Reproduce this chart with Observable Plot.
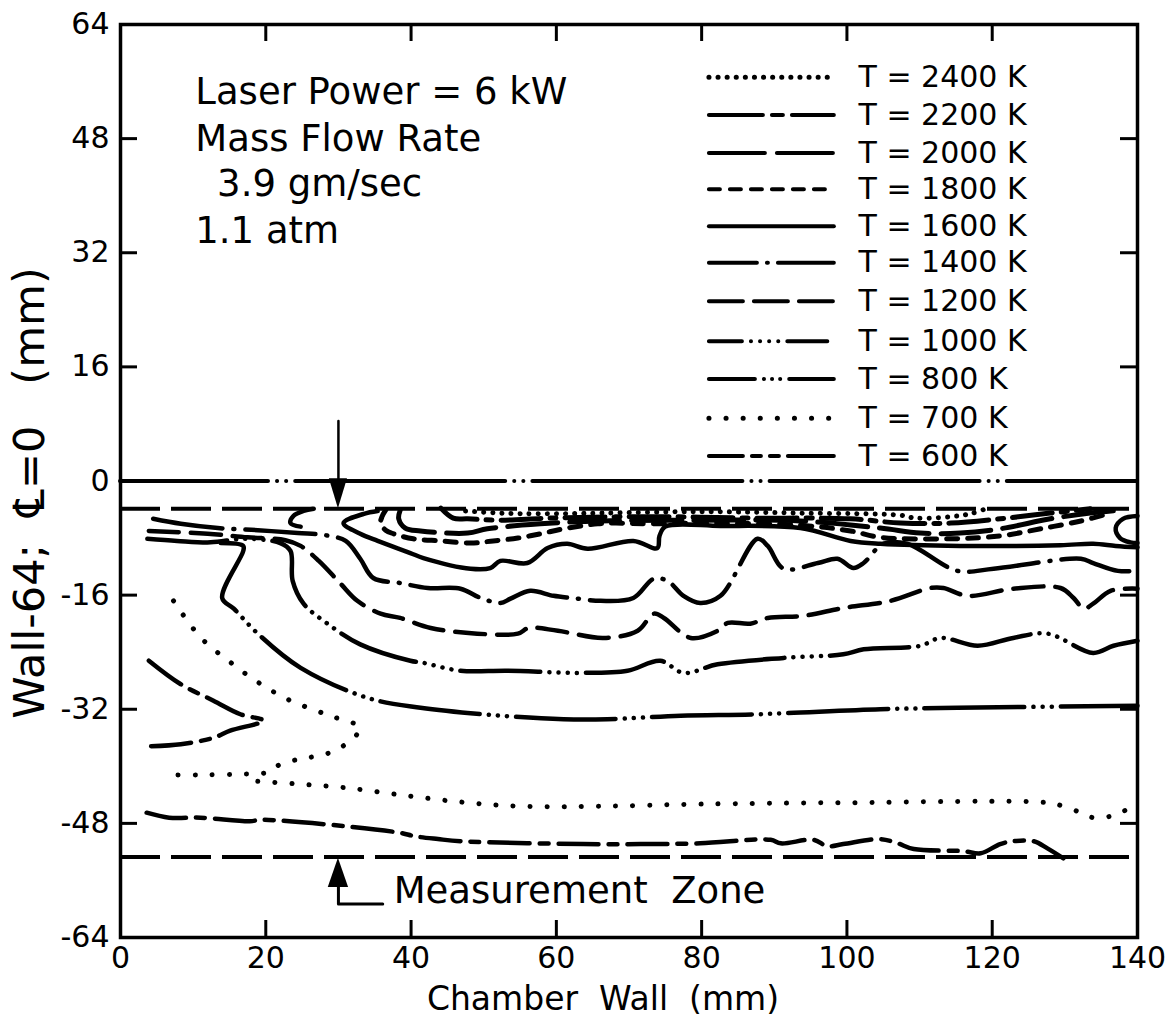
<!DOCTYPE html>
<html><head><meta charset="utf-8">
<script src="https://cdn.jsdelivr.net/npm/d3@7"></script>
<script src="https://cdn.jsdelivr.net/npm/@observablehq/plot@0.6"></script>
<style>
html,body{margin:0;padding:0;background:#fff;}
#chart{width:1169px;height:1024px;}
</style>
</head><body><div id="chart"></div>
<script>
// ---- axes ----
const xTicks = [0,20,40,60,80,100,120,140];
const yTicks = [64,48,32,16,0,-16,-32,-48,-64];
const xTickMarks = [20,40,60,80,100,120];
const yTickMarks = [48,32,16,-16,-32,-48];
const xTitle = "Chamber  Wall  (mm)";
const yTitle = "Wall-64;  \u2104=0   (mm)";

// ---- legend ----
const legendTemps = ["2400","2200","2000","1800","1600","1400","1200","1000","800","700","600"];
const legendLabels = ["T = 2400 K","T = 2200 K","T = 2000 K","T = 1800 K","T = 1600 K","T = 1400 K","T = 1200 K","T = 1000 K","T = 800 K","T = 700 K","T = 600 K"];
const legendRowY = [56.6,51.3,46.0,40.9,35.7,30.6,25.2,19.6,14.3,8.8,3.5];

// ---- contours [x mm, y mm] ----
const t2400 = [[47.5,-4.2],[52.3,-4.5],[57.8,-4.6],[66.1,-4.5],[79.8,-4.3],[93.6,-4.5],[107.4,-4.8],[109.4,-5.2],[114.3,-5.0],[117.0,-4.6],[119.1,-3.9]];
const t2200 = [[44.1,-3.8],[45.8,-5.2],[47.8,-5.3],[52.3,-5.5],[59.2,-5.2],[73.0,-5.0],[86.7,-5.2],[100.5,-5.3],[107.4,-5.9],[114.3,-5.9],[121.1,-5.3],[128.0,-4.5],[133.5,-3.9]];
const t2000 = [[38.5,-4.1],[38.3,-5.3],[39.2,-6.6],[41.3,-7.0],[47.8,-7.3],[50.5,-6.7],[57.8,-6.0],[66.1,-5.6],[79.8,-5.5],[93.6,-5.6],[104.6,-6.6],[110.1,-7.3],[115.6,-7.3],[121.1,-6.7],[128.0,-5.3],[133.5,-4.5],[137.7,-4.1]];
const t1800 = [[36.5,-4.1],[36.0,-5.0],[35.8,-5.9],[36.5,-6.9],[37.6,-7.4],[40.3,-8.1],[44.1,-8.4],[48.2,-8.7],[51.3,-8.4],[54.7,-8.0],[57.8,-7.4],[61.0,-6.7],[65.7,-6.0],[67.9,-5.9],[73.0,-6.0],[82.6,-5.9],[93.6,-6.2],[100.5,-7.0],[104.6,-7.9],[114.3,-8.1],[121.1,-7.7],[126.7,-6.7],[132.2,-5.6],[136.3,-4.5]];
const t1600 = [[35.4,-4.2],[33.5,-4.6],[30.7,-5.9],[33.0,-7.4],[35.4,-8.4],[39.9,-10.1],[41.7,-10.8],[48.2,-12.3],[50.9,-12.2],[52.3,-11.2],[56.0,-11.5],[58.8,-9.4],[61.5,-8.8],[64.3,-9.5],[70.6,-8.4],[73.9,-9.4],[74.2,-7.7],[75.0,-6.4],[82.6,-6.3],[93.6,-6.6],[100.5,-8.4],[104.6,-8.8],[115.6,-9.1],[129.4,-9.0],[133.9,-8.8],[137.0,-9.1],[140,-9.3]];
const t1600hook = [[26.6,-3.9],[25.2,-4.2],[23.8,-4.9],[23.4,-5.9],[24.8,-6.4]];
const t1600loop = [[140,-4.9],[138.0,-5.3],[137.0,-6.6],[137.6,-8.0],[139.0,-8.6],[140,-8.7]];
const t1400 = [[4.5,-5.3],[8.3,-6.0],[13.4,-6.6],[18.9,-6.9],[24.4,-7.3],[28.2,-7.6],[31.0,-8.4],[33.0,-10.9],[34.8,-13.6],[38.5,-14.3],[42.3,-15.0],[46.8,-15.1],[49.6,-16.4],[52.3,-17.1],[53.7,-16.5],[56.4,-15.4],[59.6,-16.1],[62.2,-16.4],[66.1,-16.8],[70.6,-16.4],[73.4,-13.7],[75.3,-14.0],[77.5,-16.1],[79.8,-17.1],[82.6,-16.1],[87.7,-8.1],[89.1,-9.1],[91.3,-12.3],[96.0,-11.5],[98.7,-10.9],[100.9,-12.2],[102.3,-11.5],[105.0,-8.8],[108.3,-8.8],[115.2,-12.6],[120.2,-12.3],[132.2,-10.9],[133.9,-11.5],[137.3,-12.6],[140,-12.6]];
const t1200 = [[3.9,-7.0],[12.0,-7.4],[17.5,-7.9],[22.7,-8.3],[24.8,-9.1],[27.3,-11.2],[30.3,-14.4],[32.6,-16.8],[35.8,-18.6],[38.5,-19.2],[42.7,-20.6],[49.1,-21.4],[54.7,-21.4],[56.2,-20.6],[60.2,-21.0],[66.5,-22.0],[71.2,-21.0],[73.4,-18.6],[74.8,-19.2],[78.5,-22.0],[82.2,-21.0],[83.6,-19.9],[86.7,-20.0],[89.1,-19.2],[94.0,-18.9],[99.5,-17.8],[106.0,-16.8],[111.5,-15.0],[113.3,-15.0],[116.6,-16.1],[122.9,-15.1],[129.4,-15.0],[131.2,-16.4],[132.6,-17.9],[133.9,-17.2],[136.3,-15.4],[140,-15.1]];
const t1000 = [[3.7,-8.1],[7.8,-8.4],[12.4,-8.6],[17.2,-8.1],[22.0,-8.7],[23.4,-9.8],[23.7,-14.0],[25.2,-17.2],[28.5,-20.0],[33.0,-22.9],[39.9,-25.2],[41.7,-25.5],[46.8,-26.6],[53.3,-26.6],[63.3,-26.9],[69.8,-26.6],[74.3,-25.2],[77.5,-26.9],[82.2,-25.7],[91.3,-24.8],[99.5,-24.3],[102.3,-23.6],[110.1,-23.1],[112.9,-22.0],[118.0,-23.1],[122.9,-22.0],[127.6,-21.4],[133.9,-24.1],[136.7,-23.1],[140,-22.4]];
const t800 = [[13.8,-8.7],[16.9,-9.1],[16.9,-9.8],[14.0,-16.4],[15.6,-17.9],[18.9,-21.4],[24.8,-26.2],[34.0,-30.4],[41.3,-31.8],[52.3,-32.9],[61.0,-33.4],[67.0,-33.4],[77.1,-32.9],[87.7,-32.7],[104.6,-32.0],[115.2,-31.8],[140,-31.5]];
const t700a = [[7.3,-16.8],[11.0,-21.9],[15.1,-25.4],[18.9,-28.2],[23.0,-30.6],[28.5,-32.8],[33.0,-34.6],[32.1,-36.0],[29.3,-37.9],[26.8,-38.6],[24.6,-39.0],[22.0,-39.7],[20.4,-40.8],[16.2,-41.1],[11.0,-41.2],[7.0,-41.2]];
const t700b = [[18.9,-42.1],[24.8,-42.5],[31.0,-43.0],[38.5,-44.0],[46.8,-45.0],[55.1,-45.6],[66.1,-45.6],[79.8,-45.3],[100.5,-45.1],[127.6,-45.1],[129.8,-45.6],[132.2,-46.5],[133.9,-47.2],[136.3,-47.0],[138.1,-46.3],[139.5,-45.3],[140,-44.9]];
const t600a = [[3.9,-25.2],[8.3,-28.5],[12.8,-30.8],[16.5,-32.7],[19.7,-33.6],[15.1,-35.0],[12.8,-36.0],[8.3,-36.9],[3.9,-37.2]];
const t600b = [[3.6,-46.5],[6.7,-47.2],[11.0,-47.2],[17.8,-47.7],[19.4,-47.5],[38.4,-49.3],[40.5,-49.8],[43.7,-50.2],[46.8,-50.5],[63.7,-50.9],[71.6,-50.9],[79.8,-50.8],[89.5,-50.3],[90.9,-50.8],[95.4,-50.3],[97.3,-51.2],[99.5,-50.9],[104.6,-50.2],[107.0,-50.8],[109.2,-51.6],[116.1,-51.9],[118.4,-52.2],[121.1,-50.9],[122.9,-50.5],[125.7,-50.5],[127.6,-51.5],[129.8,-52.9]];

const contours = [
  {temp:"2400", pts:t2400}, {temp:"2200", pts:t2200}, {temp:"2000", pts:t2000},
  {temp:"1800", pts:t1800}, {temp:"1600", pts:t1600}, {temp:"1600", pts:t1600hook},
  {temp:"1600", pts:t1600loop}, {temp:"1400", pts:t1400}, {temp:"1200", pts:t1200},
  {temp:"1000", pts:t1000}, {temp:"800", pts:t800}, {temp:"700", pts:t700a},
  {temp:"700", pts:t700b}, {temp:"600", pts:t600a}, {temp:"600", pts:t600b}
];

// ---- annotations ----
const wallLines = [0];
const zoneLines = [-3.9, -52.7];
const notes = [
  {text:"Laser Power = 6 kW", x:10.3, y:52.9},
  {text:"Mass Flow Rate", x:10.3, y:46.3},
  {text:"3.9 gm/sec", x:13.3, y:40.0},
  {text:"1.1 atm", x:10.3, y:33.4}
];
const zoneLabel = [{text:"Measurement  Zone", x:37.6, y:-57.5}];
const arrowTopShaft = [[30,8.4],[30,-2]];
const arrowTopHead = [{x:28.75,y1:0.3,y2:0.3},{x:30,y1:0.3,y2:-3.9},{x:31.25,y1:0.3,y2:0.3}];
const arrowBotShaft = [[30,-55],[30,-59.3],[36.1,-59.3]];
const arrowBotHead = [{x:28.6,y1:-57.0,y2:-57.0},{x:30,y1:-57.0,y2:-52.9},{x:31.4,y1:-57.0,y2:-57.0}];
const legendX = [81.0, 98.2];
const legendTextX = 101.6;

// ---- styles ----
const plotDash = {"2400":"0.1,9","2200":"40,9,6,9","2000":"50,12","1800":"11,10","1600":null,
  "1400":"70,11,1,11","1200":"30,12","1000":"80,9,0.1,9,0.1,9,0.1,9,0.1,9",
  "800":"100,9,0.1,9,0.1,9,0.1,9","700":"0.1,17","600":"40,10,9,10"};
const legendDash = {"2400":"0.1,9","2200":"54,9,11,9","2000":"56,12","1800":"11,10","1600":null,
  "1400":"48,10,1,10,56","1200":"34,11","1000":"33,9,0.1,9,0.1,9,0.1,9,0.1,9,40",
  "800":"46,9,0.1,8,0.1,8,0.1,9,50","700":"0.1,17","600":"34,9,9,9,9,9,50"};
const plotWidth = {"2400":5,"2200":5,"2000":5,"1800":5,"1600":4.5,"1400":4.5,"1200":4.5,"1000":4.5,"800":4.5,"700":5,"600":4.5};
const FONT = "DejaVu Sans";

const marks = [];
marks.push(Plot.frame({stroke:"black", strokeWidth:3.5}));
marks.push(Plot.ruleX(xTickMarks, {x:d=>d, insetTop:896, strokeWidth:3}));
marks.push(Plot.ruleX(xTickMarks, {x:d=>d, insetBottom:896, strokeWidth:3}));
marks.push(Plot.ruleY(yTickMarks, {y:d=>d, insetRight:1000, strokeWidth:3}));
marks.push(Plot.ruleY(yTickMarks, {y:d=>d, insetLeft:1000, strokeWidth:3}));
marks.push(Plot.axisX({ticks:xTicks, tickSize:0, tickPadding:9, fontSize:30, fontFamily:FONT, label:null, tickFormat:d=>String(d)}));
marks.push(Plot.axisY({ticks:yTicks, tickSize:0, tickPadding:11, fontSize:30, fontFamily:FONT, label:null, tickFormat:d=>String(d)}));
marks.push(Plot.text([xTitle], {frameAnchor:"bottom", dy:62, dx:-26, fontSize:33, fontFamily:FONT, lineAnchor:"middle", fill:"black"}));
marks.push(Plot.text([yTitle], {frameAnchor:"left", rotate:-90, dx:-90, dy:12, fontSize:43, fontFamily:FONT, lineAnchor:"middle", textAnchor:"middle", fill:"black"}));

marks.push(Plot.ruleY(wallLines, {y:d=>d, strokeWidth:4, strokeDasharray:"210,9,0.1,9,0.1,9", strokeDashoffset:62, strokeLinecap:"round"}));
marks.push(Plot.ruleY(zoneLines, {y:d=>d, strokeWidth:4, strokeDasharray:"40,11"}));

for (const c of contours) {
  const o = {x:d=>d[0], y:d=>d[1], stroke:"black", strokeWidth:plotWidth[c.temp],
    strokeLinecap:"round", strokeLinejoin:"round", curve:"catmull-rom"};
  if (plotDash[c.temp]) o.strokeDasharray = plotDash[c.temp];
  marks.push(Plot.line(c.pts, o));
}

// legend
legendTemps.forEach((t,i) => {
  const o = {x:d=>d, y:()=>legendRowY[i], stroke:"black", strokeWidth:(t==="700"||t==="2400")?5:4, strokeLinecap:"round"};
  if (legendDash[t]) o.strokeDasharray = legendDash[t];
  marks.push(Plot.line(legendX, o));
});
marks.push(Plot.text(legendLabels, {x:()=>legendTextX, y:(d,i)=>legendRowY[i], text:d=>d, fontSize:30, fontFamily:FONT, textAnchor:"start", lineAnchor:"middle", fill:"black"}));

// notes
marks.push(Plot.text(notes, {x:"x", y:"y", text:"text", fontSize:37, fontFamily:FONT, textAnchor:"start", lineAnchor:"bottom", fill:"black"}));
marks.push(Plot.text(zoneLabel, {x:"x", y:"y", text:"text", fontSize:37, fontFamily:FONT, textAnchor:"start", lineAnchor:"middle", fill:"black"}));

// arrows
marks.push(Plot.line(arrowTopShaft, {x:d=>d[0], y:d=>d[1], stroke:"black", strokeWidth:2.5}));
marks.push(Plot.areaY(arrowTopHead, {x:"x", y1:"y1", y2:"y2", fill:"black", curve:"linear"}));
marks.push(Plot.line(arrowBotShaft, {x:d=>d[0], y:d=>d[1], stroke:"black", strokeWidth:3}));
marks.push(Plot.areaY(arrowBotHead, {x:"x", y1:"y1", y2:"y2", fill:"black", curve:"linear"}));

const chart = Plot.plot({
  width:1169, height:1024,
  marginLeft:120, marginRight:32, marginTop:24, marginBottom:87,
  x:{domain:[0,140]},
  y:{domain:[-64,64]},
  style:{fontFamily:FONT, background:"white", color:"black"},
  marks
});
document.getElementById("chart").appendChild(chart);
</script>
</body></html>
